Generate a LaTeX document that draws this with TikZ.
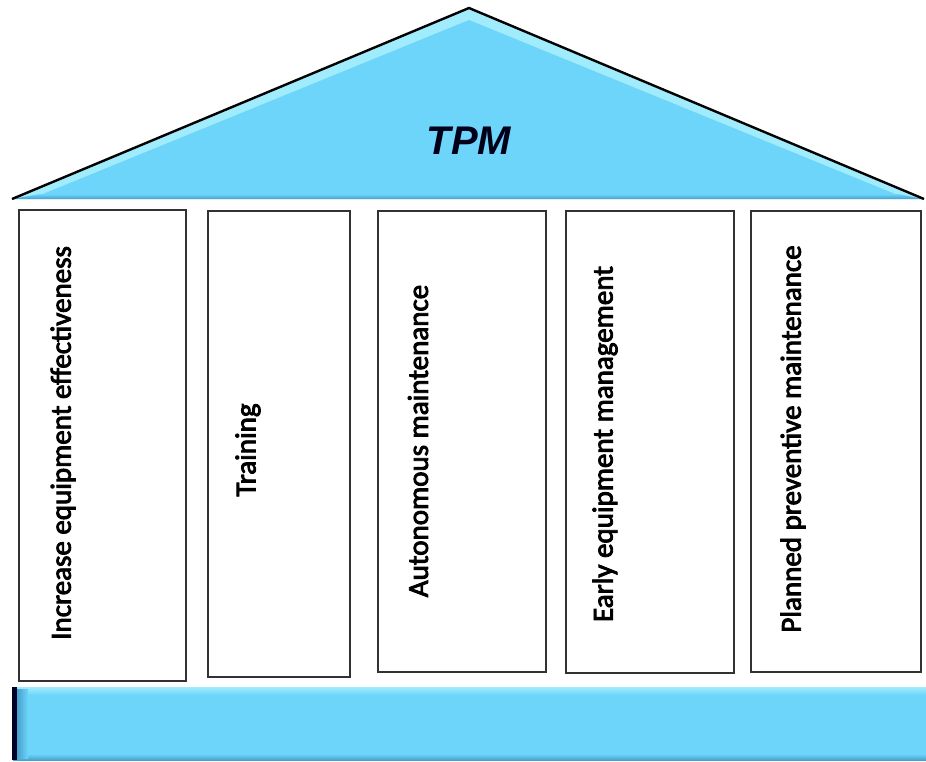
\documentclass[tikz,border=0pt]{standalone}
\usepackage{fontspec}
\setmainfont{Carlito}
\newfontfamily\pillarfont[FakeBold=3]{Carlito}
\newfontfamily\headfont{Liberation Sans}
\begin{document}
\begin{tikzpicture}[x=1pt,y=-1pt,
  pillar/.style={draw=pillarline, line width=1.8pt, fill=white, inner sep=0pt},
  pillartext/.style={rotate=90, font=\pillarfont\fontsize{29}{34}\selectfont, inner sep=0pt, text=black},
  roofedge/.style={draw=black, line width=2.4pt, line join=miter}]
\definecolor{tpmblue}{RGB}{110,213,250}
\definecolor{tpmlight}{RGB}{160,236,252}
\definecolor{tpmdark}{RGB}{70,160,205}
\definecolor{pillarline}{RGB}{50,50,50}
\useasboundingbox (0,0) rectangle (926,761);
\fill[white] (0,0) rectangle (926,761);

% roof
\coordinate (apex) at (469,8);
\coordinate (eaveL) at (12,199);
\coordinate (eaveR) at (924,199);
\fill[tpmlight] (apex) -- (eaveR) -- (eaveL) -- cycle;
\fill[tpmblue] (469,20) -- (900,196) -- (38,196) -- cycle;
\shade[top color=tpmblue, bottom color=tpmdark] (40,194) -- (898,194) -- (924,199) -- (12,199) -- cycle;
\draw[roofedge] (eaveL) -- (apex) -- (eaveR);
\node[font=\headfont\bfseries\itshape\fontsize{40}{44}\selectfont, text=black!90!blue] (roof) at (469,141) {TPM};

% pillars
\node[pillar, minimum width=167, minimum height=471] (p1) at (102.5,445.5) {};
\node[pillar, minimum width=142, minimum height=466] (p2) at (279,444) {};
\node[pillar, minimum width=168, minimum height=461] (p3) at (462,441.5) {};
\node[pillar, minimum width=168, minimum height=462] (p4) at (650,442) {};
\node[pillar, minimum width=170, minimum height=461] (p5) at (836,441.5) {};

\node[pillartext] (t1) at (63,443) {Increase equipment effectiveness};
\node[pillartext] (t2) at (248,450) {Training};
\node[pillartext] (t3) at (418,441) {Autonomous maintenance};
\node[pillartext] (t4) at (605,444) {Early equipment management};
\node[pillartext] (t5) at (793,439) {Planned preventive maintenance};

% base
\fill[tpmblue] (13,687) rectangle (926,760);
\shade[top color=tpmlight, bottom color=tpmblue] (13,687) rectangle (926,695);
\shade[top color=tpmblue, bottom color=tpmdark] (13,754) rectangle (926,760);
\shade[left color=tpmdark, right color=tpmblue] (17,689) rectangle (28,758);
\fill[black!85!blue] (12,687) rectangle (17,760);
\end{tikzpicture}
\end{document}
